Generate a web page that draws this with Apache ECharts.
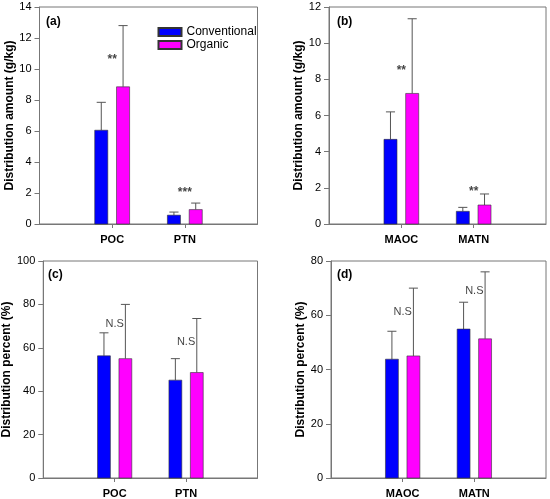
<!DOCTYPE html>
<html>
<head>
<meta charset="utf-8">
<script src="https://cdn.jsdelivr.net/npm/echarts@6/dist/echarts.min.js"></script>
<style>
  html, body { margin: 0; padding: 0; background: #fff; }
  #main { width: 550px; height: 499px; }
</style>
</head>
<body>
<div id="main"></div>
<script>
// data: means and upper error bar (SD)
var seriesNames = ['Conventional', 'Organic'];

var catsA = ['POC', 'PTN'];
var convA = [6.05, 0.57];
var convSdA = [1.8, 0.2];
var orgA = [8.85, 0.93];
var orgSdA = [3.95, 0.42];
var sigA = ['**', '***'];
var sigPosA = [10.6, 2.0];

var catsB = ['MAOC', 'MATN'];
var convB = [4.68, 0.70];
var convSdB = [1.52, 0.22];
var orgB = [7.22, 1.05];
var orgSdB = [4.13, 0.61];
var sigB = ['**', '**'];
var sigPosB = [8.5, 1.8];

var catsC = ['POC', 'PTN'];
var convC = [56.3, 45.1];
var convSdC = [10.6, 9.9];
var orgC = [55.0, 48.6];
var orgSdC = [25.0, 24.9];
var sigC = ['N.S', 'N.S'];
var sigPosC = [71, 62.8];

var catsD = ['MAOC', 'MATN'];
var convD = [43.8, 54.9];
var convSdD = [10.3, 9.9];
var orgD = [45.0, 51.3];
var orgSdD = [25.0, 24.7];
var sigD = ['N.S', 'N.S'];
var sigPosD = [61.1, 69.1];

var yTitles = ['Distribution amount (g/kg)', 'Distribution amount (g/kg)',
               'Distribution percent (%)', 'Distribution percent (%)'];
var yMax = [14, 12, 100, 80];
var yStep = [2, 2, 20, 20];

var FONT = '"Liberation Sans", Arial, sans-serif';
var colors = ['#0000ff', '#ff00ff'];

var myChart = echarts.init(document.getElementById('main'));

var grids = [
  { left: 39.5, top: 7, width: 218, height: 217 },
  { left: 329, top: 7, width: 217, height: 217 },
  { left: 39.5, top: 261, width: 218, height: 217 },
  { left: 331, top: 261, width: 215, height: 217 }
];

var panels = [
  { cats: catsA, vals: [convA, orgA], sds: [convSdA, orgSdA], sig: sigA, sigPos: sigPosA },
  { cats: catsB, vals: [convB, orgB], sds: [convSdB, orgSdB], sig: sigB, sigPos: sigPosB },
  { cats: catsC, vals: [convC, orgC], sds: [convSdC, orgSdC], sig: sigC, sigPos: sigPosC },
  { cats: catsD, vals: [convD, orgD], sds: [convSdD, orgSdD], sig: sigD, sigPos: sigPosD }
];

// bar + upper error bar with cap
function renderBar(params, api) {
  var x = api.value(0), y = api.value(1), sd = api.value(2);
  var w = api.size([0.18, 0])[0];
  var base = api.coord([x, 0]);
  var top = api.coord([x, y]);
  var eTop = api.coord([x, y + sd]);
  var cap = w * 0.35;
  return {
    type: 'group',
    children: [
      {
        type: 'line',
        shape: { x1: top[0], y1: top[1], x2: eTop[0], y2: eTop[1] },
        style: { stroke: '#555', lineWidth: 1 }
      },
      {
        type: 'line',
        shape: { x1: eTop[0] - cap, y1: eTop[1], x2: eTop[0] + cap, y2: eTop[1] },
        style: { stroke: '#555', lineWidth: 1 }
      },
      {
        type: 'rect',
        shape: { x: base[0] - w / 2, y: top[1], width: w, height: base[1] - top[1] },
        style: { fill: api.visual('color'), stroke: '#333', lineWidth: 0.6 }
      }
    ]
  };
}

var xAxes = [], yAxes = [], series = [];
panels.forEach(function (p, k) {
  xAxes.push({
    type: 'value', gridIndex: k, min: 0, max: 3, interval: 1,
    axisLine: { lineStyle: { color: '#777', width: 1 } },
    axisTick: { show: true, customValues: [1, 2], length: 4, inside: false, lineStyle: { color: '#777' } },
    axisLabel: {
      customValues: [1, 2], margin: 10,
      fontFamily: FONT, fontSize: 11, fontWeight: 'bold', color: '#000',
      formatter: function (v) { return p.cats[v - 1] || ''; }
    },
    splitLine: { show: false }
  });
  yAxes.push({
    type: 'value', gridIndex: k, min: 0, max: yMax[k], interval: yStep[k],
    name: yTitles[k], nameLocation: 'middle', nameGap: k == 2 ? 26 : 24,
    nameTextStyle: { fontFamily: FONT, fontSize: 12, fontWeight: 'bold', color: '#000' },
    axisLine: { show: true, lineStyle: { color: '#777', width: 1 } },
    axisTick: { show: true, length: 5, inside: false, lineStyle: { color: '#777' } },
    axisLabel: { fontFamily: FONT, fontSize: 11, color: '#000', margin: 8 },
    splitLine: { show: false }
  });
  [0, 1].forEach(function (s) {
    var off = s == 0 ? -0.15 : 0.15;
    series.push({
      name: seriesNames[s],
      type: 'custom',
      xAxisIndex: k, yAxisIndex: k,
      renderItem: renderBar,
      itemStyle: { color: colors[s], borderColor: '#333', borderWidth: 0.6 },
      encode: { x: 0, y: 1 },
      data: p.vals[s].map(function (v, i) { return [i + 1 + off, v, p.sds[s][i]]; }),
      silent: true,
      z: 3
    });
  });
  series.push({
    type: 'scatter',
    xAxisIndex: k, yAxisIndex: k,
    symbolSize: 0,
    silent: true,
    data: p.sig.map(function (t, i) { return [i + 1, p.sigPos[i], t]; }),
    label: {
      show: true, position: 'inside',
      fontFamily: FONT, fontSize: k < 2 ? 12 : 11,
      fontWeight: k < 2 ? 'bold' : 'normal', color: '#111',
      textBorderWidth: 0, textBorderColor: 'transparent',
      formatter: function (prm) { return prm.data[2]; }
    },
    z: 4
  });
});

var option = {
  animation: false,
  backgroundColor: '#fff',
  title: [
    { text: '(a)', left: 46, top: 16 },
    { text: '(b)', left: 337, top: 16 },
    { text: '(c)', left: 48, top: 269 },
    { text: '(d)', left: 337, top: 269 }
  ].map(function (t) {
    t.padding = 0;
    t.textStyle = { fontFamily: FONT, fontSize: 12, fontWeight: 'bold', color: '#000' };
    return t;
  }),
  legend: {
    data: seriesNames.map(function (n) { return { name: n, icon: 'rect' }; }),
    orient: 'vertical',
    left: 157.5, top: 26,
    itemWidth: 23, itemHeight: 8, itemGap: 1,
    selectedMode: false,
    padding: 0,
    textStyle: { fontFamily: FONT, fontSize: 12, color: '#000', lineHeight: 11, padding: [0, 0, 0, 0] }
  },
  grid: grids.map(function (g) {
    g.show = true; g.borderColor = '#777'; g.borderWidth = 1;
    g.backgroundColor = 'transparent';
    return g;
  }),
  xAxis: xAxes,
  yAxis: yAxes,
  series: series
};

myChart.setOption(option);
window.addEventListener('resize', function () {
  myChart.resize();
});
</script>
</body>
</html>
